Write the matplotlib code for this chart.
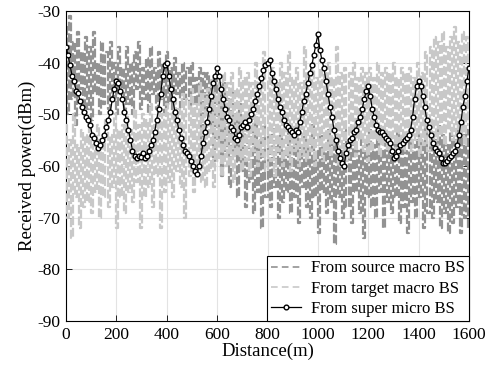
import numpy as np
import matplotlib
matplotlib.use("Agg")
import matplotlib.pyplot as plt

plt.rcParams['font.family'] = ['Liberation Serif', 'DejaVu Serif']
plt.rcParams['mathtext.fontset'] = 'stix'

# Received power from source macro BS (dBm), sampled every 8 m
source_macro = [
    -33, -50, -31, -47, -36, -52, -34, -45, -38, -50,
    -35, -49, -37, -51, -34, -46, -40, -50, -36, -48,
    -38, -49, -36, -47, -40, -50, -37, -46, -41, -49,
    -37, -48, -40, -50, -38, -45, -36, -49, -41, -47,
    -39, -50, -37, -46, -41, -49, -38, -47, -40, -50,
    -38, -48, -41, -50, -39, -46, -42, -49, -40, -47,
    -41, -49, -40, -55, -43, -48, -41, -58, -42, -50,
    -42, -52, -44, -60, -43, -55, -46, -62, -44, -57,
    -47, -64, -45, -58, -50, -66, -48, -61, -52, -68,
    -50, -63, -53, -69, -51, -65, -55, -72, -52, -66,
    -54, -68, -52, -64, -56, -70, -53, -67, -57, -65,
    -53, -69, -55, -66, -52, -71, -56, -64, -54, -68,
    -55, -70, -52, -66, -57, -73, -54, -65, -56, -69,
    -53, -67, -56, -75, -54, -66, -57, -70, -53, -68,
    -55, -71, -52, -65, -57, -69, -54, -74, -56, -66,
    -53, -68, -56, -70, -54, -65, -57, -72, -55, -67,
    -54, -69, -56, -66, -53, -71, -55, -68, -57, -73,
    -54, -67, -56, -70, -53, -66, -55, -72, -52, -69,
    -53, -70, -55, -67, -52, -72, -54, -69, -56, -73,
    -53, -71, -55, -68, -52, -73, -54, -70, -53, -72,
]

# Received power from target macro BS (dBm), sampled every 8 m
target_macro = [
    -52, -70, -55, -74, -50, -66, -56, -72, -53, -68,
    -54, -67, -51, -69, -56, -65, -52, -70, -55, -66,
    -51, -68, -54, -64, -50, -72, -53, -66, -52, -69,
    -50, -65, -53, -67, -49, -63, -52, -72, -50, -66,
    -51, -64, -48, -68, -52, -62, -49, -72, -50, -65,
    -48, -63, -50, -66, -47, -61, -49, -64, -46, -70,
    -47, -62, -45, -65, -48, -60, -44, -63, -46, -64,
    -45, -61, -43, -64, -46, -59, -44, -62, -42, -60,
    -44, -60, -42, -63, -45, -58, -41, -61, -43, -59,
    -42, -62, -44, -57, -40, -60, -43, -58, -38, -61,
    -43, -59, -41, -62, -44, -57, -40, -60, -42, -58,
    -38, -61, -43, -57, -41, -60, -44, -58, -37, -59,
    -42, -57, -40, -60, -43, -56, -41, -59, -42, -57,
    -40, -58, -43, -56, -37, -60, -42, -57, -41, -59,
    -42, -56, -40, -58, -43, -55, -41, -57, -42, -59,
    -41, -57, -43, -55, -40, -58, -42, -56, -41, -57,
    -42, -55, -40, -58, -43, -56, -41, -57, -42, -55,
    -41, -57, -43, -55, -40, -58, -42, -56, -38, -57,
    -37, -55, -35, -57, -36, -54, -34, -56, -37, -53,
    -35, -55, -33, -57, -36, -54, -34, -56, -35, -52,
]

# Received power from super micro BS (dBm), sampled every 8 m (0..1600)
super_micro = [
    -37.0, -38.5, -40.5, -42.5, -43.5, -45.5, -45.8, -47.5, -48.5, -49.5,
    -50.5, -51.0, -52.0, -54.0, -54.5, -55.5, -56.5, -56.0, -55.0, -54.0,
    -52.5, -51.0, -49.5, -47.0, -45.0, -43.5, -44.0, -45.5, -47.0, -49.5,
    -51.0, -53.0, -55.0, -57.0, -58.0, -58.5, -58.0, -58.3, -57.5, -58.5,
    -58.0, -57.0, -56.0, -55.0, -53.5, -51.0, -49.0, -46.0, -42.5, -40.5,
    -40.0, -42.5, -45.0, -47.0, -49.5, -51.0, -53.0, -54.5, -56.0, -57.0,
    -57.5, -58.0, -59.0, -60.0, -61.0, -61.5, -60.0, -58.0, -55.5, -53.5,
    -51.5, -49.0, -46.5, -44.0, -42.5, -41.0, -42.5, -45.0, -47.0, -49.0,
    -50.5, -51.0, -52.5, -53.0, -54.5, -55.0, -54.0, -52.5, -52.0, -51.5,
    -52.5, -51.0, -50.0, -49.0, -47.5, -46.0, -44.5, -43.0, -41.5, -40.5,
    -40.0, -39.5, -42.0, -43.5, -45.0, -47.0, -48.5, -49.5, -51.0, -52.0,
    -52.5, -53.0, -53.5, -54.0, -53.0, -53.5, -51.5, -49.5, -47.5, -46.0,
    -44.0, -42.0, -40.5, -38.5, -36.5, -34.5, -37.5, -39.5, -41.0, -43.5,
    -46.0, -48.5, -50.5, -53.0, -55.0, -57.0, -58.5, -59.5, -60.0, -57.5,
    -56.0, -55.0, -54.5, -53.5, -53.0, -51.5, -50.5, -49.0, -47.0, -45.5,
    -44.5, -46.5, -49.0, -50.5, -52.0, -53.0, -53.5, -53.5, -54.0, -54.5,
    -55.0, -55.5, -57.0, -58.5, -58.0, -57.0, -56.0, -55.5, -55.0, -54.5,
    -54.0, -53.0, -50.5, -47.0, -44.5, -43.5, -44.5, -46.5, -48.5, -51.0,
    -52.5, -54.0, -55.5, -56.5, -57.0, -57.5, -58.5, -59.5, -59.5, -59.0,
    -58.5, -58.0, -57.5, -57.0, -56.0, -54.0, -51.5, -48.5, -46.5, -43.5,
    -41.0,
]

x_ticks = [0, 200, 400, 600, 800, 1000, 1200, 1400, 1600]
y_ticks = [-90, -80, -70, -60, -50, -40, -30]

labels = ['From source macro BS', 'From target macro BS', 'From super micro BS']

d_noise = np.linspace(0, 1600, len(source_macro))
d_micro = np.linspace(0, 1600, len(super_micro))

fig = plt.figure(figsize=(4.92, 3.70), dpi=100)
ax = fig.add_axes([66 / 492, 1 - 321 / 370, (469 - 66) / 492, (321 - 11) / 370])

ax.plot(d_noise, source_macro, color='#929292', lw=1.6, ls=(0, (4, 1.2)),
        drawstyle='steps-mid', label=labels[0], zorder=2)
ax.plot(d_noise, target_macro, color='#c8c8c8', lw=1.6, ls=(0, (4, 1.2)),
        drawstyle='steps-mid', label=labels[1], zorder=3)
ax.plot(d_micro, super_micro, color='black', lw=0.9, marker='o', ms=3.4,
        mfc='white', mec='black', mew=1.0, label=labels[2], zorder=4)

ax.set_xlim(0, 1600)
ax.set_ylim(-90, -30)
ax.set_xticks(x_ticks)
ax.set_yticks(y_ticks)
ax.set_xticklabels([str(v) for v in x_ticks])
ax.set_yticklabels([str(v) for v in y_ticks])
ax.grid(True, color='#e3e3e3', lw=0.8, zorder=0)
ax.set_axisbelow(True)
ax.tick_params(direction='in', length=4, width=0.6, labelsize=12.5,
               top=True, right=True, pad=4)
for s in ax.spines.values():
    s.set_linewidth(0.8)

ax.set_xlabel('Distance(m)', fontsize=13.5, labelpad=0)
ax.set_ylabel('Received power(dBm)', fontsize=13.5, labelpad=1)

leg = ax.legend(loc='lower right', borderaxespad=0, fancybox=False,
                framealpha=1, edgecolor='black', fontsize=12,
                handlelength=1.8, handletextpad=0.6, labelspacing=0.25,
                borderpad=0.25)
leg.get_frame().set_linewidth(0.8)
leg.set_zorder(10)
for h in leg.get_lines()[:2]:
    h.set_linestyle((0, (4, 2.5)))
    h.set_linewidth(1.2)

fig.savefig('out.png', dpi=100)
